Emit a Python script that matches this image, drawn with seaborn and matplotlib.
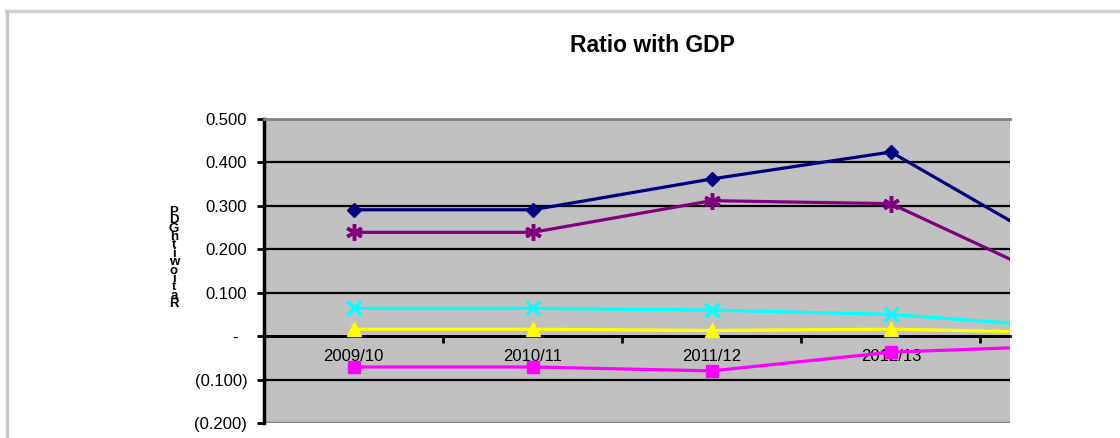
import numpy as np
import pandas as pd
import seaborn as sns
import matplotlib.pyplot as plt
from matplotlib.lines import Line2D
from matplotlib.ticker import FixedLocator, FuncFormatter

# values (5th year is cut off by the crop)
periods = ['2009/10', '2010/11', '2011/12', '2012/13', '2013/14']
navy_vals = [0.291, 0.291, 0.362, 0.424, 0.186]
purple_vals = [0.239, 0.239, 0.312, 0.305, 0.113]
cyan_vals = [0.064, 0.064, 0.060, 0.050, 0.020]
yellow_vals = [0.016, 0.016, 0.013, 0.016, 0.008]
magenta_vals = [-0.071, -0.071, -0.080, -0.037, -0.022]

yticks = [-0.2, -0.1, 0.0, 0.1, 0.2, 0.3, 0.4, 0.5]

sns.set_theme(style='white')
plt.rcParams['font.family'] = ['Liberation Sans', 'DejaVu Sans']
plt.rcParams.update({'text.color': 'black', 'xtick.color': 'black',
                     'ytick.color': 'black', 'axes.labelcolor': 'black'})

fig = plt.figure(figsize=(11.2, 4.38), dpi=100)
ax = fig.add_axes([264 / 1120, 1 - 423 / 438, (1010 - 264) / 1120, (423 - 119) / 438])
ax.set_facecolor('#c0c0c0')

pos = np.arange(len(periods))
series = [
    (navy_vals, '#000080', 'D', 7.5, 1.0),
    (purple_vals, '#800080', (6, 2, 0), 12, 2.5),
    (cyan_vals, '#00ffff', 'x', 10, 2.5),
    (yellow_vals, '#ffff00', '^', 10, 1.0),
    (magenta_vals, '#ff00ff', 's', 8.5, 1.0),
]
for vals, col, mk, ms, mew in series:
    df = pd.DataFrame({'pos': pos, 'val': vals})
    sns.lineplot(data=df, x='pos', y='val', color=col, marker=mk, markersize=ms,
                 markeredgewidth=mew, markeredgecolor=col, linewidth=2.3,
                 legend=False, ax=ax, zorder=3)

# horizontal gridlines
for y in yticks[1:-1]:
    ax.axhline(y, color='black', lw=1.6 if y != 0 else 2.0, zorder=1)

ax.spines['right'].set_visible(False)
ax.spines['top'].set_color('#808080')
ax.spines['top'].set_linewidth(2)
ax.spines['left'].set_color('black')
ax.spines['left'].set_linewidth(2.5)
ax.axhline(-0.2, color='#808080', lw=2.5, zorder=1)


def fmt(v, _):
    if abs(v) < 1e-9:
        return '-  '
    if v < 0:
        return '({:.3f})'.format(-v)
    return '{:.3f}'.format(v)


ax.yaxis.set_major_locator(FixedLocator(yticks))
ax.yaxis.set_major_formatter(FuncFormatter(fmt))
ax.tick_params(axis='y', direction='out', length=5, width=2, color='black',
               labelsize=12, pad=7, left=True, labelcolor='black')

# category axis sits on the zero line
ax.xaxis.set_ticks_position('bottom')
ax.spines['bottom'].set_position(('data', 0))
ax.spines['bottom'].set_color('black')
ax.spines['bottom'].set_linewidth(2)
ax.set_xticks(pos[:-1] + 0.5)
ax.set_xticklabels([])
ax.set_xticks(pos, minor=True)
ax.set_xticklabels(periods, minor=True)
ax.tick_params(axis='x', which='major', direction='out', length=5, width=2,
               color='black', bottom=True)
ax.tick_params(axis='x', which='minor', length=0, labelsize=12, pad=9,
               labelcolor='black')
ax.set_xlabel('')
ax.set_ylabel('')

ax.set_xlim(-0.5, (1010 - 354) / 179)
ax.set_ylim(-0.2, 0.5)

# Excel stacked-letter axis title
fig.text(174 / 1120, 1 - 258 / 438, '\n'.join('PDGhtiwoitaR'), ha='center',
         va='center', fontsize=9.5, fontweight='bold', linespacing=0.6)

fig.text(652 / 1120, 1 - 46 / 438, 'Ratio with GDP', ha='center', va='center',
         fontsize=16.5, fontweight='bold')

# chart frame
fig.add_artist(Line2D([6 / 1120, 1], [1 - 11 / 438] * 2, color='#d0d0d0', lw=2.5))
fig.add_artist(Line2D([7 / 1120] * 2, [0, 1 - 11 / 438], color='#c8c8c8', lw=2.5))

fig.savefig('out.png', dpi=100)
